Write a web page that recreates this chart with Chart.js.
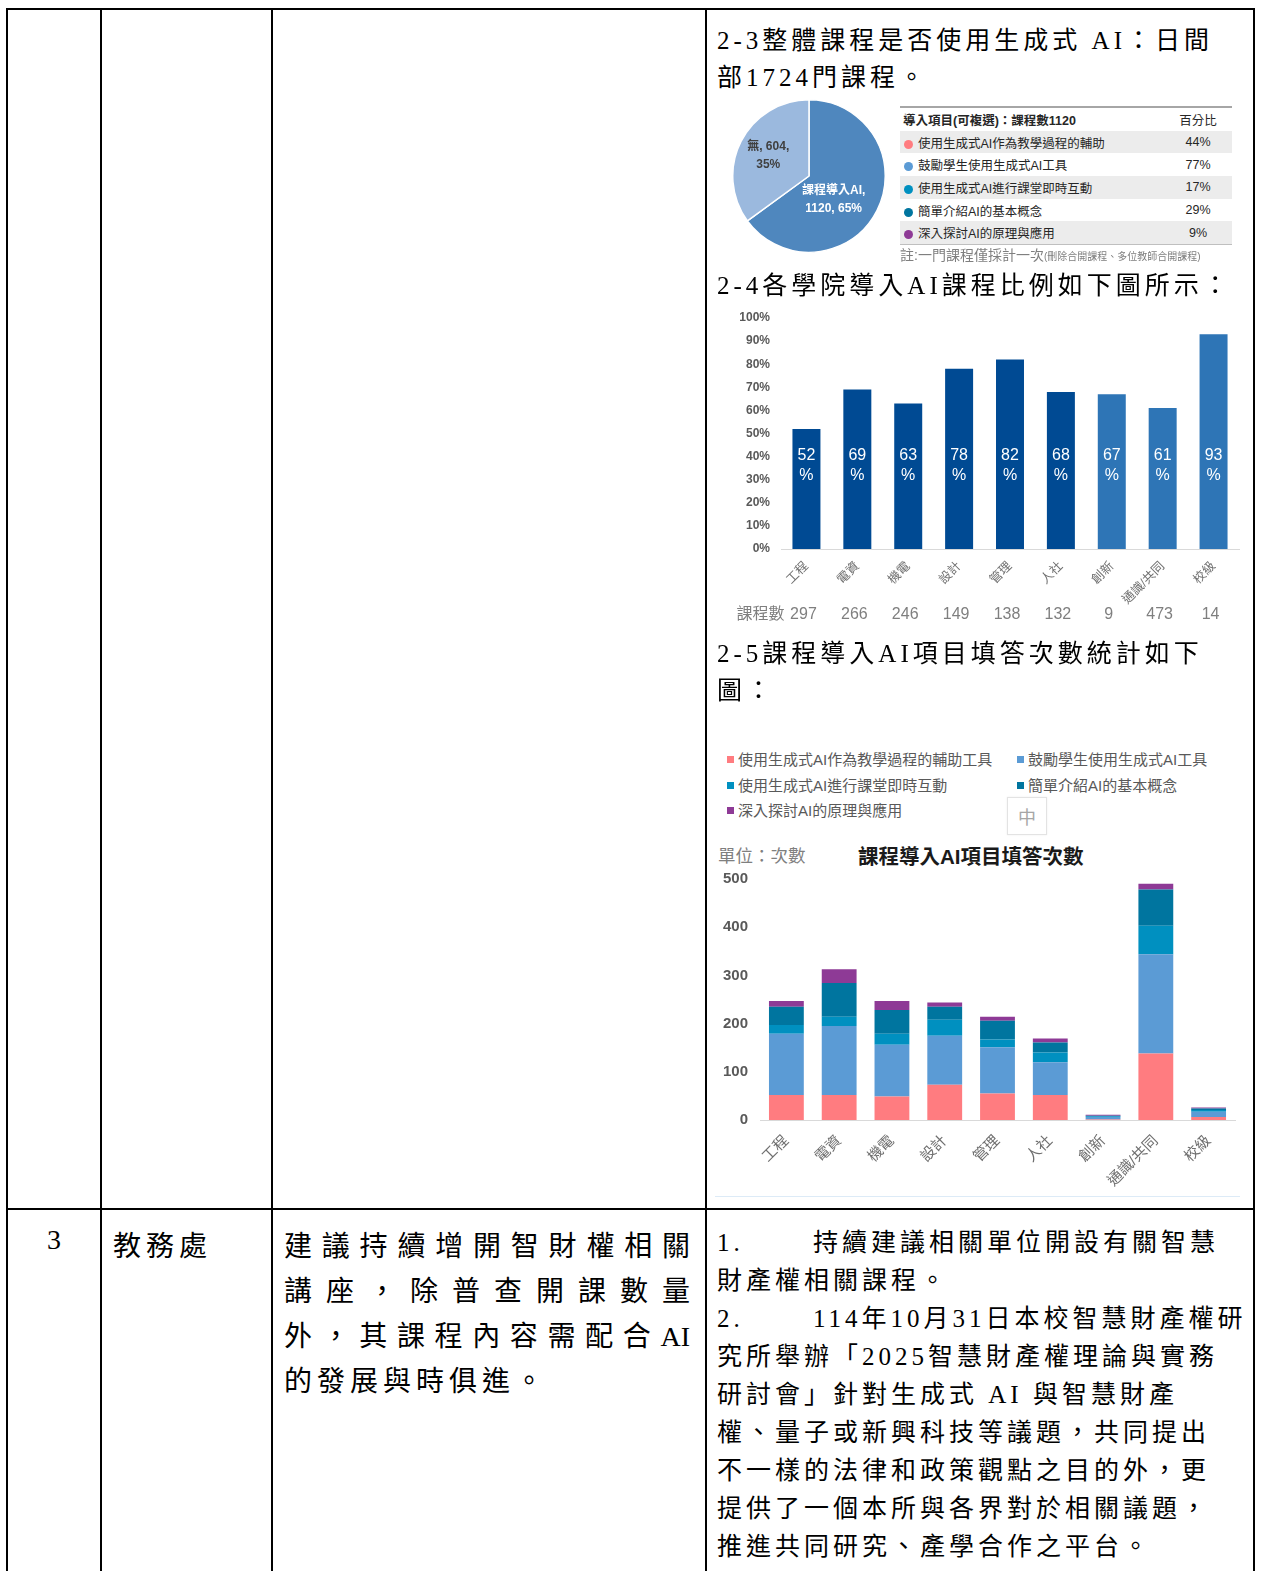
<!DOCTYPE html>
<html>
  <head>
    <meta charset="utf-8">
    <title>課程導入AI</title>
    <script src="https://cdn.jsdelivr.net/npm/chart.js@4.4.1/dist/chart.umd.min.js"></script>
    <style>
      body { margin: 0; width: 1264px; height: 1571px; overflow: hidden; background: #fff; position: relative; }
      .ln { position: absolute; background: #000; }
      .doc { position: absolute; font-family: "Liberation Serif", "Noto Sans CJK TC", serif; color: #000; white-space: nowrap; }
      .body25 { font-size: 25px; letter-spacing: 4px; line-height: 38px; }
      .body28 { font-size: 28px; letter-spacing: 5px; line-height: 45px; }
      .just { text-align: justify; text-align-last: justify; width: 406px; letter-spacing: 0; }
      .num { display: inline-block; width: 96px; }
      .sans { position: absolute; font-family: "Liberation Sans", "Noto Sans CJK TC", sans-serif; white-space: nowrap; }
      #pieTable { position: absolute; left: 900px; top: 106px; width: 332px; border-collapse: collapse;
        font-family: "Liberation Sans", "Noto Sans CJK TC", sans-serif; font-size: 12.5px; color: #262626;
        border-top: 2px solid #a6a6a6; border-bottom: 1px solid #bfbfbf; }
      #pieTable td { height: 22.7px; padding: 0; }
      #pieTable tr.g td { background: #ececec; }
      #pieTable .dot { display: inline-block; width: 9px; height: 9px; border-radius: 50%; margin: 0 5px 0 4px; vertical-align: -1px; }
      #legend { position: absolute; left: 727px; top: 747px; width: 520px; font-family: "Liberation Sans", "Noto Sans CJK TC", sans-serif; font-size: 15px; color: #595959; }
      #legend div { position: absolute; white-space: nowrap; }
      #legend span { display: inline-block; width: 7px; height: 7px; margin-right: 4px; vertical-align: 2px; }
    </style>
  </head>
  <body>
    <!-- table grid -->
    <div class="ln" style="left:6px;top:8px;width:1249px;height:2px"></div>
    <div class="ln" style="left:6px;top:1208px;width:1249px;height:2px"></div>
    <div class="ln" style="left:6px;top:8px;width:2px;height:1563px"></div>
    <div class="ln" style="left:100px;top:8px;width:2px;height:1563px"></div>
    <div class="ln" style="left:271px;top:8px;width:2px;height:1563px"></div>
    <div class="ln" style="left:705px;top:8px;width:2px;height:1563px"></div>
    <div class="ln" style="left:1253px;top:8px;width:2px;height:1563px"></div>

    <!-- first row, right cell -->
    <div class="doc body25" style="left:717px;top:22px;line-height:37px">2-3整體課程是否使用生成式 AI：日間<br>部1724門課程。</div>

    <canvas id="pie" width="154" height="154" style="position:absolute;left:732px;top:99px"></canvas>
    <table id="pieTable"></table>
    <div class="sans" style="left:900px;top:244px;font-size:14px;color:#7f7f7f">註:一門課程僅採計一次<span style="font-size:10px">(刪除合開課程、多位教師合開課程)</span></div>

    <div class="doc body25" style="left:717px;top:267px">2-4各學院導入AI課程比例如下圖所示：</div>
    <canvas id="pct" width="535" height="320" style="position:absolute;left:715px;top:305px"></canvas>

    <div class="doc body25" style="left:717px;top:635px;line-height:37px">2-5課程導入AI項目填答次數統計如下<br>圖：</div>

    <div id="legend"></div>
    <div style="position:absolute;left:1007px;top:797px;width:38px;height:36px;border:1px solid #e3e3e3;box-shadow:0 0 2px #eee;
      font-family:'Noto Sans CJK TC';font-size:18px;color:#a6a6a6;text-align:center;line-height:36px">中</div>

    <div class="sans" style="left:718px;top:842px;font-size:17.5px;color:#7f7f7f">單位：次數</div>
    <div class="sans" style="left:858px;top:840px;font-size:20.5px;font-weight:bold;color:#1a1a1a">課程導入AI項目填答次數</div>
    <canvas id="stack" width="535" height="330" style="position:absolute;left:712px;top:866px"></canvas>
    <div style="position:absolute;left:715px;top:1196px;width:525px;height:1px;background:#ddebf7"></div>

    <!-- second row -->
    <div class="doc" style="left:47px;top:1222px;font-size:28px;line-height:36px">3</div>
    <div class="doc body28" style="left:113px;top:1224px">教務處</div>
    <div class="doc body28" style="left:284px;top:1224px">
      <div class="just">建議持續增開智財權相關</div>
      <div class="just">講座，除普查開課數量</div>
      <div class="just">外，其課程內容需配合AI</div>
      <div>的發展與時俱進。</div>
    </div>
    <div class="doc body25" style="left:717px;top:1224px">
      <div><span class="num">1.</span>持續建議相關單位開設有關智慧</div>
      <div>財產權相關課程。</div>
      <div><span class="num">2.</span>114年10月31日本校智慧財產權研</div>
      <div>究所舉辦「2025智慧財產權理論與實務</div>
      <div>研討會」針對生成式 AI 與智慧財產</div>
      <div>權、量子或新興科技等議題，共同提出</div>
      <div>不一樣的法律和政策觀點之目的外，更</div>
      <div>提供了一個本所與各界對於相關議題，</div>
      <div>推進共同研究、產學合作之平台。</div>
    </div>

    <script>
      // pie: overall courses with / without AI
      const pieLabels = ['課程導入AI', '無'];
      const pieValues = [1120, 604];
      const piePct = [65, 35];
      const pieColors = ['#4f87be', '#9bb9de'];

      // adoption items (multi-select), share of 1120 courses
      const itemNames = ['使用生成式AI作為教學過程的輔助', '鼓勵學生使用生成式AI工具', '使用生成式AI進行課堂即時互動', '簡單介紹AI的基本概念', '深入探討AI的原理與應用'];
      const itemPct = [44, 77, 17, 29, 9];
      const itemColors = ['#ff7c80', '#5b9bd5', '#0090c0', '#00759f', '#8e3a96'];

      // per-college adoption ratio
      const colleges = ['工程', '電資', '機電', '設計', '管理', '人社', '創新', '通識/共同', '校級'];
      const adoptionPct = [52, 69, 63, 78, 82, 68, 67, 61, 93];
      const courseCounts = [297, 266, 246, 149, 138, 132, 9, 473, 14];

      // answer counts per item and college
      const seriesNames = ['使用生成式AI作為教學過程的輔助工具', '鼓勵學生使用生成式AI工具', '使用生成式AI進行課堂即時互動', '簡單介紹AI的基本概念', '深入探討AI的原理與應用'];
      const assistCounts = [52, 52, 49, 73, 55, 52, 1, 138, 6];
      const encourageCounts = [127, 143, 107, 102, 96, 68, 5, 206, 11];
      const interactCounts = [18, 19, 23, 33, 16, 20, 2, 59, 4];
      const basicsCounts = [38, 70, 49, 27, 39, 21, 1, 75, 3];
      const deepCounts = [12, 29, 19, 9, 8, 8, 2, 12, 2];
      const stackSeries = [assistCounts, encourageCounts, interactCounts, basicsCounts, deepCounts];

      const sansFont = '"Liberation Sans", "Noto Sans CJK TC", sans-serif';
      Chart.defaults.font.family = sansFont;
      Chart.defaults.color = '#595959';
      Chart.defaults.animation = false;

      // side table of the pie
      const tbl = document.getElementById('pieTable');
      let html = '<tr><td style="font-weight:bold;padding-left:3px">導入項目(可複選)：課程數' + pieValues[0] +
        '</td><td style="text-align:center;width:68px">百分比</td></tr>';
      itemNames.forEach((n, i) => {
        html += '<tr class="' + (i % 2 === 0 ? 'g' : '') + '"><td><span class="dot" style="background:' + itemColors[i] + '"></span>' + n +
          '</td><td style="text-align:center">' + itemPct[i] + '%</td></tr>';
      });
      tbl.innerHTML = html;

      // legend of stacked chart
      const legend = document.getElementById('legend');
      seriesNames.forEach((n, i) => {
        const d = document.createElement('div');
        d.style.left = (i % 2 === 0 ? 0 : 290) + 'px';
        d.style.top = (1 + Math.floor(i / 2) * 25.5) + 'px';
        d.innerHTML = '<span style="background:' + itemColors[i] + '"></span>' + n;
        legend.appendChild(d);
      });

      const pieLabelPlugin = {
        id: 'pieLabels',
        afterDatasetsDraw(chart) {
          const ctx = chart.ctx;
          const arcs = chart.getDatasetMeta(0).data;
          const frac = [0.45, 0.6];
          const nudge = [0.3, 0];
          const lines = [[pieLabels[0] + ',', pieValues[0] + ', ' + piePct[0] + '%'], [pieLabels[1] + ', ' + pieValues[1] + ',', piePct[1] + '%']];
          ctx.save();
          ctx.font = 'bold 12px ' + sansFont;
          ctx.textAlign = 'center';
          ctx.textBaseline = 'middle';
          arcs.forEach((a, i) => {
            const ang = (a.startAngle + a.endAngle) / 2 + nudge[i];
            const cx = a.x + Math.cos(ang) * a.outerRadius * frac[i];
            const cy = a.y + Math.sin(ang) * a.outerRadius * frac[i];
            ctx.fillStyle = i === 0 ? '#ffffff' : '#404040';
            ctx.fillText(lines[i][0], cx, cy - 9);
            ctx.fillText(lines[i][1], cx, cy + 9);
          });
          ctx.restore();
        }
      };

      new Chart(document.getElementById('pie'), {
        type: 'pie',
        data: { labels: pieLabels, datasets: [{ data: pieValues, backgroundColor: pieColors, borderColor: '#fff', borderWidth: 1.5 }] },
        options: {
          responsive: false,
          layout: { padding: 0 },
          plugins: { legend: { display: false }, tooltip: { enabled: false } }
        },
        plugins: [pieLabelPlugin]
      });

      const pctLabelPlugin = {
        id: 'pctLabels',
        afterDatasetsDraw(chart) {
          const ctx = chart.ctx;
          const bars = chart.getDatasetMeta(0).data;
          const y = chart.scales.y;
          ctx.save();
          ctx.textAlign = 'center';
          ctx.textBaseline = 'middle';
          ctx.fillStyle = '#ffffff';
          ctx.font = '16px ' + sansFont;
          bars.forEach((b, i) => {
            ctx.fillText(String(adoptionPct[i]), b.x, y.getPixelForValue(40.3));
            ctx.fillText('%', b.x, y.getPixelForValue(31.6));
          });
          // course counts under the axis
          const cy = chart.chartArea.bottom + 66;
          ctx.fillStyle = '#7f7f7f';
          ctx.font = '16px ' + sansFont;
          bars.forEach((b, i) => ctx.fillText(String(courseCounts[i]), b.x - 3, cy));
          ctx.textAlign = 'right';
          ctx.fillText('課程數', bars[0].x - 22, cy);
          ctx.restore();
        }
      };

      new Chart(document.getElementById('pct'), {
        type: 'bar',
        data: {
          labels: colleges,
          datasets: [{
            data: adoptionPct,
            backgroundColor: adoptionPct.map((v, i) => i < 6 ? '#004a93' : '#2e75b6'),
            barPercentage: 0.55,
            categoryPercentage: 1
          }]
        },
        options: {
          responsive: false,
          layout: { padding: { top: 13, right: 11 } },
          plugins: { legend: { display: false }, tooltip: { enabled: false } },
          scales: {
            x: {
              grid: { display: false },
              border: { display: true, color: '#d9d9d9' },
              ticks: { minRotation: 45, maxRotation: 45, font: { size: 12.5 }, color: '#6f6f6f', padding: 2 },
              afterFit(s) { s.height = 76; }
            },
            y: {
              min: 0, max: 100,
              grid: { display: false },
              border: { display: false },
              ticks: { stepSize: 10, callback: v => v + '%', font: { size: 12, weight: 'bold' }, color: '#595959', padding: 3 },
              afterFit(s) { s.width = 66; }
            }
          }
        },
        plugins: [pctLabelPlugin]
      });

      new Chart(document.getElementById('stack'), {
        type: 'bar',
        data: {
          labels: colleges,
          datasets: stackSeries.map((vals, i) => ({
            label: seriesNames[i],
            data: vals,
            backgroundColor: itemColors[i],
            barPercentage: 0.66,
            categoryPercentage: 1
          }))
        },
        options: {
          responsive: false,
          layout: { padding: { top: 6, right: 12 } },
          plugins: { legend: { display: false }, tooltip: { enabled: false } },
          scales: {
            x: {
              stacked: true,
              grid: { display: false },
              border: { display: true, color: '#d9d9d9' },
              ticks: { minRotation: 45, maxRotation: 45, font: { size: 15 }, color: '#6f6f6f', padding: 4 },
              afterFit(s) { s.height = 76; }
            },
            y: {
              stacked: true,
              min: 0, max: 500,
              grid: { display: false },
              border: { display: false },
              ticks: { stepSize: 100, font: { size: 15, weight: 'bold' }, color: '#595959', padding: 4 },
              afterFit(s) { s.width = 48; }
            }
          }
        }
      });
    </script>
  </body>
</html>
